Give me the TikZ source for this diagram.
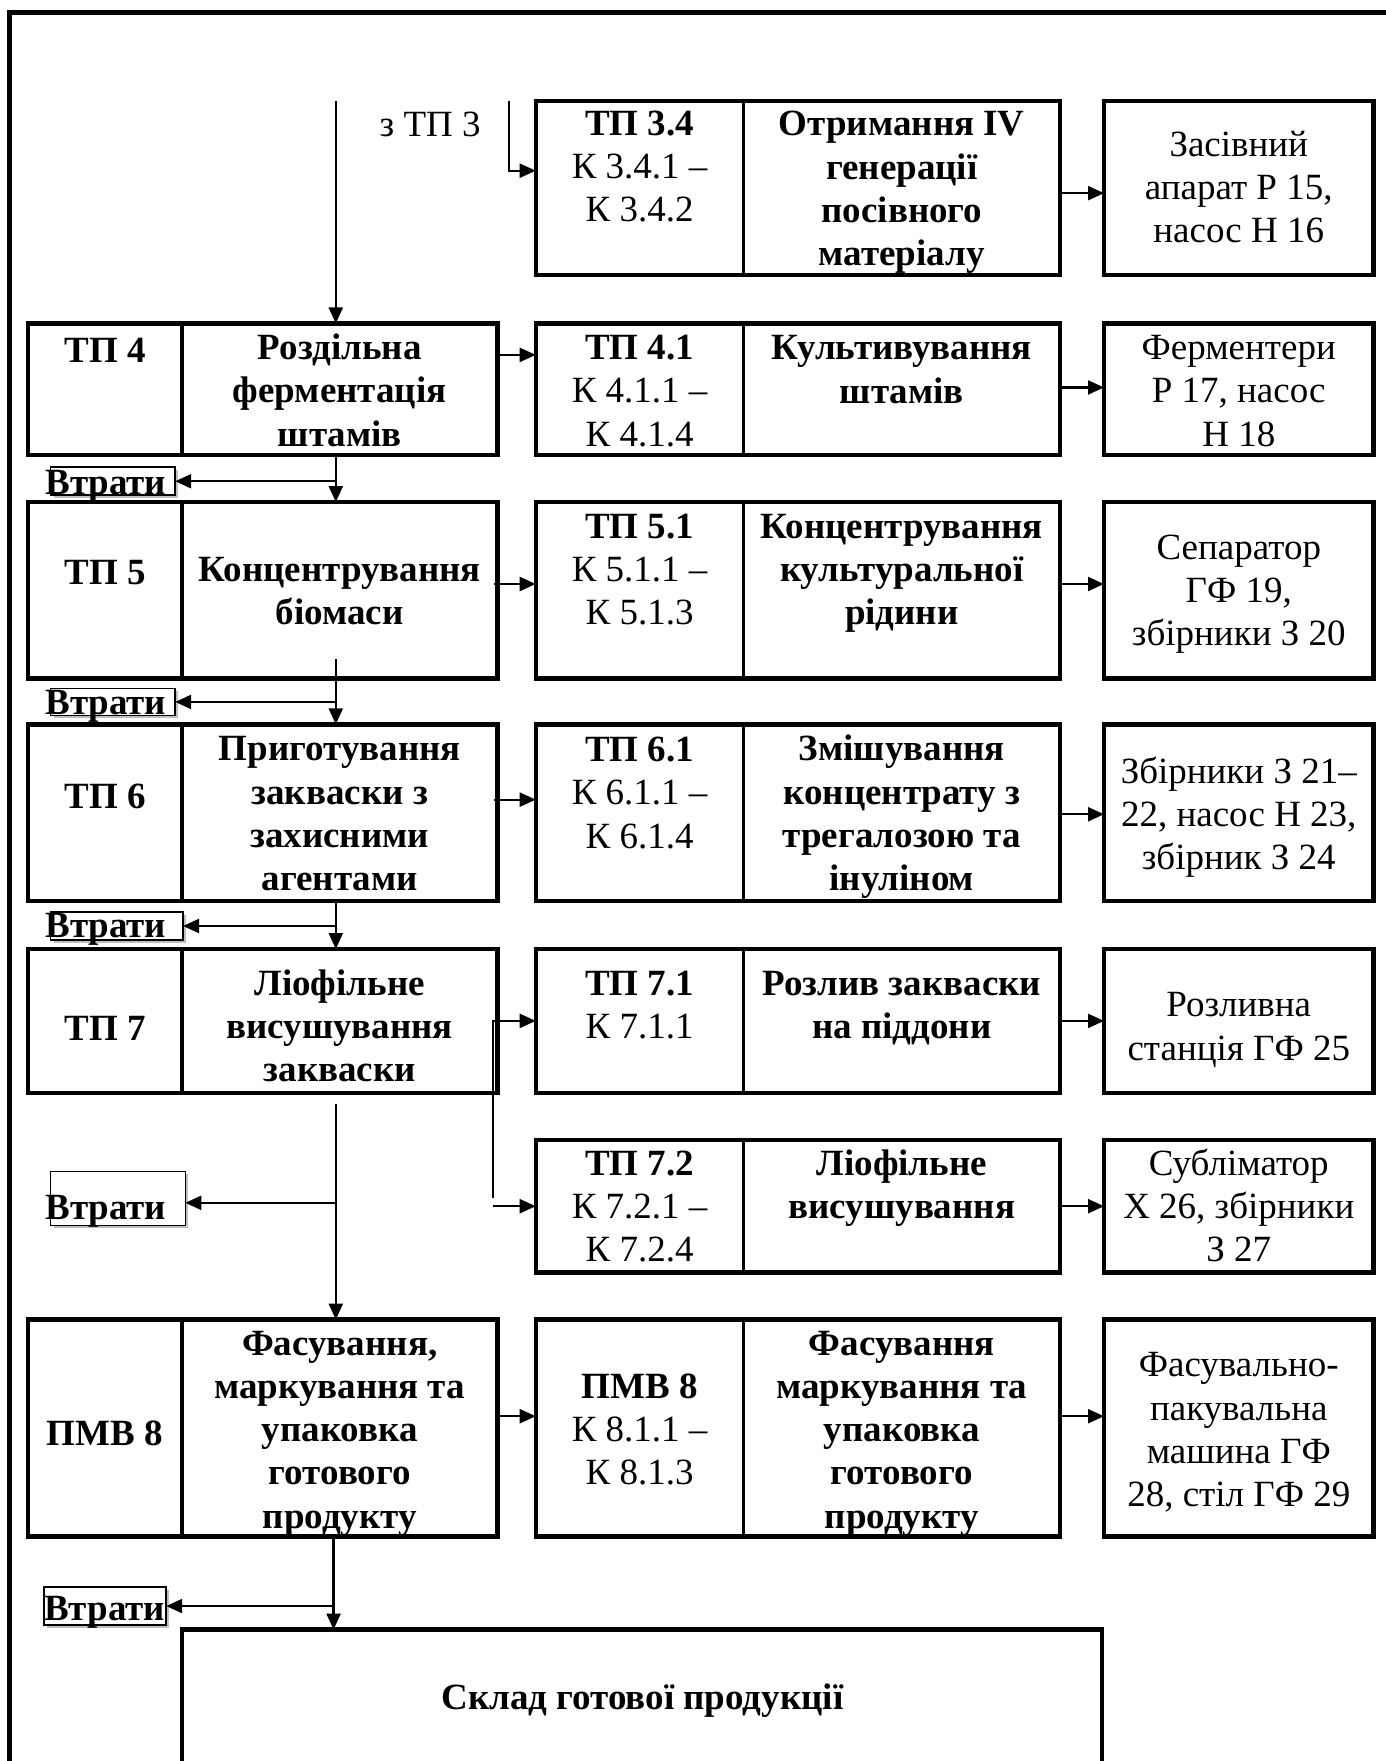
\documentclass[tikz,border=0pt]{standalone}
\usepackage{fontspec}
\setmainfont{Liberation Serif}
\usetikzlibrary{arrows.meta,shadows}
\newcommand{\mkbox}[6][]{\node[boxst,#1,minimum width={(#5-#3)*0.5616pt},minimum height={(#6-#4)*0.5616pt}] (#2) at ({(#3+#5)/2},{(#4+#6)/2}) {};}
\begin{document}
\begin{tikzpicture}[x=0.5616pt,y=-0.5616pt,
  boxst/.style={draw,line width=2.2pt,inner sep=0pt,outer sep=0pt},
  lossbox/.style={draw,line width=0.8pt,drop shadow={shadow xshift=1.5pt,shadow yshift=-1.5pt,opacity=0.25,fill=black}, fill=white},
  divl/.style={line width=1.8pt},
  frm/.style={line width=2.5pt},
  arr/.style={-{Triangle[length=8pt,width=7pt]},line width=1.1pt},
  ln/.style={line width=1.1pt},
  txt/.style={font=\fontsize{18.5}{21.6}\selectfont,align=center,inner sep=0pt},
  btxt/.style={txt,font=\fontsize{18.5}{21.6}\selectfont\bfseries},
  losstxt/.style={font=\fontsize{18.5}{21.6}\selectfont\bfseries,inner sep=0pt}]
\useasboundingbox (0,0) rectangle (1234,1568);
% outer frame
\draw[frm] (8.3,1620) -- (8.3,11.1) -- (1260,11.1);
% ---------- boxes ----------
% row 3.4
\mkbox{M34}{477}{90}{944}{245}
\draw[divl] (M34.north -| 662,0) -- (M34.south -| 662,0);
\mkbox{R34}{983}{90}{1223}{245}
% row 4
\mkbox{L4}{25}{288}{443}{405}
\draw[divl] (L4.north -| 162,0) -- (L4.south -| 162,0);
\mkbox{M4}{477}{288}{944}{405}
\draw[divl] (M4.north -| 662,0) -- (M4.south -| 662,0);
\mkbox{R4}{983}{288}{1223}{405}
% row 5
\mkbox{L5}{25}{447}{443}{604}
\draw[divl] (L5.north -| 162,0) -- (L5.south -| 162,0);
\mkbox{M5}{477}{447}{944}{604}
\draw[divl] (M5.north -| 662,0) -- (M5.south -| 662,0);
\mkbox{R5}{983}{447}{1223}{604}
% row 6
\mkbox{L6}{25}{645}{443}{802}
\draw[divl] (L6.north -| 162,0) -- (L6.south -| 162,0);
\mkbox{M6}{477}{645}{944}{802}
\draw[divl] (M6.north -| 662,0) -- (M6.south -| 662,0);
\mkbox{R6}{983}{645}{1223}{802}
% row 7
\mkbox{L7}{25}{845}{443}{973}
\draw[divl] (L7.north -| 162,0) -- (L7.south -| 162,0);
\mkbox{M71}{477}{845}{944}{973}
\draw[divl] (M71.north -| 662,0) -- (M71.south -| 662,0);
\mkbox{R71}{983}{845}{1223}{973}
% row 7.2
\mkbox{M72}{477}{1015}{944}{1133}
\draw[divl] (M72.north -| 662,0) -- (M72.south -| 662,0);
\mkbox{R72}{983}{1015}{1223}{1133}
% row 8
\mkbox{L8}{25}{1175}{443}{1368}
\draw[divl] (L8.north -| 162,0) -- (L8.south -| 162,0);
\mkbox{M8}{477}{1175}{944}{1368}
\draw[divl] (M8.north -| 662,0) -- (M8.south -| 662,0);
\mkbox{R8}{983}{1175}{1223}{1368}
% store
\mkbox{S}{162}{1451}{981}{1640}
% loss boxes
\mkbox[lossbox]{v1}{45}{416}{156}{441}
\mkbox[lossbox]{v2}{45}{613}{156}{637}
\mkbox[lossbox]{v3}{45}{812}{163}{837}
\mkbox[lossbox]{v4}{45}{1043}{165}{1091}
\mkbox[lossbox]{v5}{39}{1413}{148}{1447}
% ---------- texts ----------
\node[txt] (z3) at (383,111) {з ТП 3};
\node[txt] (t34a) at (569.5,151) {\strut\textbf{ТП 3.4}\\\strut К 3.4.1 –\\\strut К 3.4.2};
\node[btxt] (t34b) at (803,171) {\strut Отримання IV\\\strut генерації\\\strut посівного\\\strut матеріалу};
\node[txt] (t34c) at (1103,170) {\strut Засівний\\\strut апарат Р 15,\\\strut насос Н 16};

\node[btxt] (t4a) at (93.5,312) {ТП 4};
\node[btxt] (t4b) at (302.5,351) {\strut Роздільна\\\strut ферментація\\\strut штамів};
\node[txt] (t41a) at (569.5,351) {\strut\textbf{ТП 4.1}\\\strut К 4.1.1 –\\\strut К 4.1.4};
\node[btxt] (t41b) at (803,332) {\strut Культивування\\\strut штамів};
\node[txt] (t41c) at (1103,351) {\strut Ферментери\\\strut Р 17, насос\\\strut Н 18};

\node[btxt] (t5a) at (93.5,510) {ТП 5};
\node[btxt] (t5b) at (302.5,529) {\strut Концентрування\\\strut біомаси};
\node[txt] (t51a) at (569.5,510) {\strut\textbf{ТП 5.1}\\\strut К 5.1.1 –\\\strut К 5.1.3};
\node[btxt] (t51b) at (803,510) {\strut Концентрування\\\strut культуральної\\\strut рідини};
\node[txt] (t51c) at (1103,529) {\strut Сепаратор\\\strut ГФ 19,\\\strut збірники З 20};

\node[btxt] (t6a) at (93.5,709) {ТП 6};
\node[btxt] (t6b) at (302.5,727.5) {\strut Приготування\\\strut закваски з\\\strut захисними\\\strut агентами};
\node[txt] (t61a) at (569.5,709) {\strut\textbf{ТП 6.1}\\\strut К 6.1.1 –\\\strut К 6.1.4};
\node[btxt] (t61b) at (803,727.5) {\strut Змішування\\\strut концентрату з\\\strut трегалозою та\\\strut інуліном};
\node[txt] (t61c) at (1103,728) {\strut Збірники З 21–\\\strut 22, насос Н 23,\\\strut збірник З 24};

\node[btxt] (t7a) at (93.5,916) {ТП 7};
\node[btxt] (t7b) at (302.5,917) {\strut Ліофільне\\\strut висушування\\\strut закваски};
\node[txt] (t71a) at (569.5,898) {\strut\textbf{ТП 7.1}\\\strut К 7.1.1};
\node[btxt] (t71b) at (803,898) {\strut Розлив закваски\\\strut на піддони};
\node[txt] (t71c) at (1103,917) {\strut Розливна\\\strut станція ГФ 25};

\node[txt] (t72a) at (569.5,1077) {\strut\textbf{ТП 7.2}\\\strut К 7.2.1 –\\\strut К 7.2.4};
\node[btxt] (t72b) at (803,1058) {\strut Ліофільне\\\strut висушування};
\node[txt] (t72c) at (1103,1077) {\strut Субліматор\\\strut Х 26, збірники\\\strut З 27};

\node[btxt] (t8a) at (93.5,1276) {ПМВ 8};
\node[btxt] (t8b) at (302.5,1276) {\strut Фасування,\\\strut маркування та\\\strut упаковка\\\strut готового\\\strut продукту};
\node[txt] (t81a) at (569.5,1276) {\strut\textbf{ПМВ 8}\\\strut К 8.1.1 –\\\strut К 8.1.3};
\node[btxt] (t81b) at (803,1276) {\strut Фасування\\\strut маркування та\\\strut упаковка\\\strut готового\\\strut продукту};
\node[txt] (t81c) at (1103,1276) {\strut Фасувально-\\\strut пакувальна\\\strut машина ГФ\\\strut 28, стіл ГФ 29};

\node[btxt] (st) at (572,1514) {Склад готової продукції};

\node[losstxt,anchor=base west] (v1t) at (40,440) {Втрати};
\node[losstxt,anchor=base west] (v2t) at (40,636) {Втрати};
\node[losstxt,anchor=base west] (v3t) at (40,835) {Втрати};
\node[losstxt,anchor=base west] (v4t) at (40,1086) {Втрати};
\node[losstxt,anchor=base west] (v5t) at (39,1443) {Втрати};
% ---------- coordinates ----------
\coordinate (mx) at (299,0);
\coordinate (m5x) at (297,0);
\coordinate (sx) at (439,0);
\coordinate (zx) at (453,0);
\coordinate (top) at (299,90);
\coordinate (ztop) at (453,90);
\coordinate (y3) at (0,152);
\coordinate (y4) at (0,316);
\coordinate (y5) at (0,520);
\coordinate (y6) at (0,712);
\coordinate (y7) at (0,909);
\coordinate (y7b) at (0,1067);
\coordinate (y72) at (0,1074);
\coordinate (y8) at (0,1261);
\coordinate (r4) at (0,345);
\coordinate (r6) at (0,725);
\coordinate (r34) at (0,172);
\coordinate (c56) at (299,587);
\coordinate (c78) at (299,983);
\coordinate (yv4) at (0,1071);
% ---------- connectors ----------
\draw[arr] (top) -- (L4.north -| mx);
\draw[arr] (L4.south -| mx) -- (L5.north -| mx);
\draw[arr] (c56) -- (L6.north -| mx);
\draw[arr] (L6.south -| mx) -- (L7.north -| mx);
\draw[arr] (c78) -- (L8.north -| mx);
\draw[arr] (L8.south -| m5x) -- (S.north -| m5x);
% losses
\draw[arr] (mx |- v1.east) -- (v1.east);
\draw[arr] (mx |- v2.east) -- (v2.east);
\draw[arr] (mx |- v3.east) -- (v3.east);
\draw[arr] (mx |- yv4) -- (v4.east |- yv4);
\draw[arr] ([xshift=-1pt]m5x |- v5.east) -- (v5.east);
% from TP 3
\draw[arr] (ztop) -- (zx |- y3) -- (M34.west |- y3);
% left -> middle
\draw[arr] (L4.east |- y4) -- (M4.west |- y4);
\draw[arr] ([xshift=-2pt]L5.east |- y5) -- (M5.west |- y5);
\draw[arr] ([xshift=-2pt]L6.east |- y6) -- (M6.west |- y6);
\draw[arr] (sx |- y7b) -- (sx |- y7) -- (M71.west |- y7);
\draw[arr] (sx |- y72) -- (M72.west |- y72);
\draw[arr] (L8.east |- y8) -- (M8.west |- y8);
% middle -> right
\draw[arr] (M34.east |- r34) -- (R34.west |- r34);
\draw[arr] (M4.east |- r4) -- (R4.west |- r4);
\draw[arr] (M5.east |- y5) -- (R5.west |- y5);
\draw[arr] (M6.east |- r6) -- (R6.west |- r6);
\draw[arr] (M71.east |- y7) -- (R71.west |- y7);
\draw[arr] (M72.east |- y72) -- (R72.west |- y72);
\draw[arr] (M8.east |- y8) -- (R8.west |- y8);
\end{tikzpicture}
\end{document}
